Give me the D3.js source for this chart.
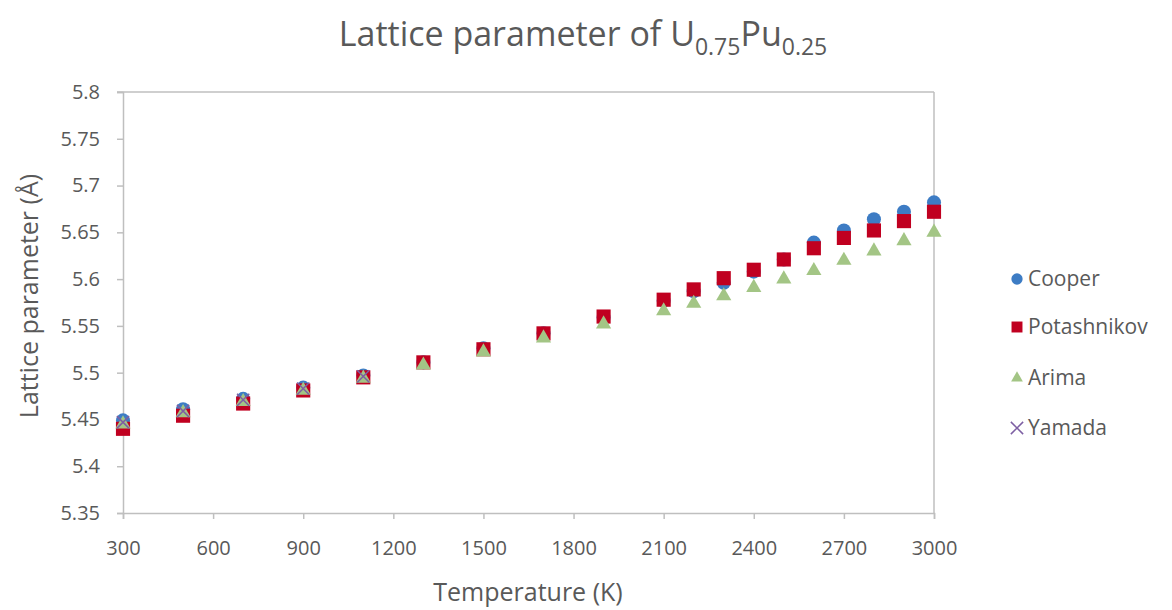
<!DOCTYPE html>
<html><head><meta charset="utf-8">
<script src="https://cdn.jsdelivr.net/npm/d3@7"></script>
<style>
body{margin:0;background:#fff;}
text{font-family:"Open Sans",sans-serif;fill:#595959;}
</style></head>
<body><svg id="c" width="1172" height="610"></svg>
<script>
const temperatures = [300,500,700,900,1100,1300,1500,1700,1900,2100,2200,2300,2400,2500,2600,2700,2800,2900,3000];
const cooper = [5.449,5.461,5.472,5.484,5.497,5.511,5.526,5.542,5.559,5.577,5.587,5.596,5.608,5.621,5.639,5.652,5.664,5.672,5.682];
const potashnikov = [5.440,5.454,5.467,5.481,5.495,5.511,5.525,5.542,5.560,5.578,5.589,5.601,5.610,5.621,5.633,5.644,5.652,5.662,5.672];
const arima = [5.445,5.457,5.469,5.481,5.494,5.508,5.522,5.537,5.552,5.566,5.574,5.582,5.591,5.600,5.609,5.620,5.630,5.641,5.650];
const yamadaT = [300,500,700,900,1100];
const yamada = [5.447,5.459,5.471,5.483,5.496];
const xTicks = [300,600,900,1200,1500,1800,2100,2400,2700,3000];
const yTicks = [5.35,5.4,5.45,5.5,5.55,5.6,5.65,5.7,5.75,5.8];
const seriesNames = ["Cooper","Potashnikov","Arima","Yamada"];

const svg = d3.select("#c");
const L=123, R=934, T=92, B=513;
const x = d3.scaleLinear().domain([300,3000]).range([L,R]);
const y = d3.scaleLinear().domain([5.35,5.8]).range([B,T]);
const axisCol = "#bfbfbf";

// frame top & right
svg.append("line").attr("x1",L-6).attr("x2",R).attr("y1",T).attr("y2",T).attr("stroke",axisCol).attr("stroke-width",1.5);
svg.append("line").attr("x1",R).attr("x2",R).attr("y1",T).attr("y2",B).attr("stroke",axisCol).attr("stroke-width",1.5);

const xa = svg.append("g").attr("transform",`translate(0,${B})`)
  .call(d3.axisBottom(x).tickValues(xTicks).tickSize(6).tickPadding(22).tickFormat(d3.format("d")));
const ya = svg.append("g").attr("transform",`translate(${L},0)`)
  .call(d3.axisLeft(y).tickValues(yTicks).tickSize(6).tickPadding(17).tickFormat(d=>String(+d.toFixed(2))));
[xa,ya].forEach(g=>{
  g.select(".domain").attr("stroke",axisCol).attr("stroke-width",1.5);
  g.selectAll(".tick line").attr("stroke",axisCol).attr("stroke-width",1.5);
  g.selectAll(".tick text").style("font-size","20px").attr("fill","#595959");
});

const colors = {Cooper:"#3d7cc4",Potashnikov:"#c00020",Arima:"#a3c585",Yamada:"#7d5fa3"};
const sym = {
  Cooper: d3.symbol(d3.symbolCircle,155),
  Potashnikov: d3.symbol(d3.symbolSquare,200),
  Arima: d3.symbol(d3.symbolTriangle,100),
};
function drawPts(Ts, vals, name){
  const g = svg.append("g");
  if(name==="Yamada"){
    g.selectAll("path").data(Ts.map((t,i)=>[t,vals[i]])).join("path")
      .attr("d",d3.symbol(d3.symbolCross2 || d3.symbolX,100)())
      .attr("transform",d=>`translate(${x(d[0])},${y(d[1])})`)
      .attr("fill","none").attr("stroke",colors.Yamada).attr("stroke-width",1.5);
  } else {
    g.selectAll("path").data(Ts.map((t,i)=>[t,vals[i]])).join("path")
      .attr("d",sym[name]())
      .attr("transform",d=>`translate(${x(d[0])},${y(d[1])})`)
      .attr("fill",colors[name]);
  }
}
drawPts(temperatures,cooper,"Cooper");
drawPts(temperatures,potashnikov,"Potashnikov");
drawPts(temperatures,arima,"Arima");
drawPts(yamadaT,yamada,"Yamada");

// title
const title = svg.append("text").attr("x",583).attr("y",46).attr("text-anchor","middle").style("font-size","34px");
title.append("tspan").text("Lattice parameter of U");
title.append("tspan").attr("dy",9).style("font-size","23px").text("0.75");
title.append("tspan").attr("dy",-9).text("Pu");
title.append("tspan").attr("dy",9).style("font-size","23px").text("0.25");

svg.append("text").attr("x",528).attr("y",601).attr("text-anchor","middle").style("font-size","25px").text("Temperature (K)");
svg.append("text").attr("transform","translate(38,296) rotate(-90)").attr("text-anchor","middle").style("font-size","25px").text("Lattice parameter (Å)");

// legend
const legY = [279,327,378,428];
seriesNames.forEach((n,i)=>{
  const g = svg.append("g").attr("transform",`translate(1017,${legY[i]})`);
  if(n==="Yamada"){
    g.append("path").attr("d",d3.symbol(d3.symbolCross2 || d3.symbolX,100)()).attr("fill","none").attr("stroke",colors.Yamada).attr("stroke-width",1.5);
  } else if(n==="Arima"){
    g.append("path").attr("d",d3.symbol(d3.symbolTriangle,60)()).attr("fill",colors[n]);
  } else if(n==="Cooper"){
    g.append("path").attr("d",d3.symbol(d3.symbolCircle,100)()).attr("fill",colors[n]);
  } else {
    g.append("path").attr("d",d3.symbol(d3.symbolSquare,120)()).attr("fill",colors[n]);
  }
  g.append("text").attr("x",11).attr("y",7).style("font-size","21px").text(n);
});
</script></body></html>
